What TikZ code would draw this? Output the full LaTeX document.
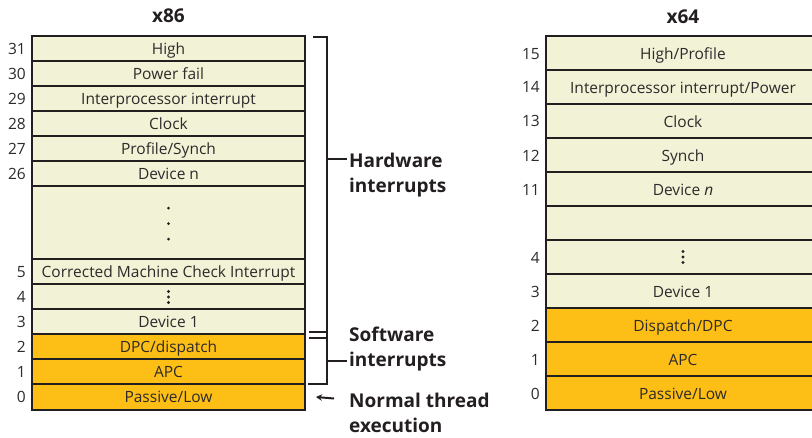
\documentclass[tikz,border=0pt]{standalone}
\usepackage{fontspec}
\setmainfont{Open Sans}
\usetikzlibrary{arrows.meta}
\definecolor{cellpale}{HTML}{F1F2D6}
\definecolor{cellorange}{HTML}{FDBF15}
\definecolor{ink}{HTML}{231F20}
\definecolor{txt}{HTML}{2E2A2B}
\begin{document}
\begin{tikzpicture}[x=1pt,y=-1pt,
  cell/.style={draw=ink, line width=2.4pt, inner sep=0pt, text height=11.1pt, text depth=0pt,
    font=\fontsize{15.5}{18}\selectfont, text=txt},
  paleA/.style={cell, fill=cellpale, minimum width=273pt},
  hotA/.style={cell, fill=cellorange, minimum width=273pt},
  paleB/.style={cell, fill=cellpale, minimum width=274pt, minimum height=34pt, text height=13pt},
  hotB/.style={cell, fill=cellorange, minimum width=274pt, minimum height=34pt, text height=13pt},
  num/.style={anchor=east, inner sep=0pt, text height=11.1pt, text depth=0pt,
    font=\fontsize{15.5}{18}\selectfont, text=txt},
  coltitle/.style={anchor=base, inner sep=0pt, font=\bfseries\fontsize{19}{22}\selectfont, text=ink},
  lbl/.style={anchor=west, align=left, inner sep=0pt, font=\bfseries\fontsize{19}{25}\selectfont, text=ink},
  brk/.style={draw=ink, line width=2pt},
  vdot/.style={fill=ink}
]
\useasboundingbox (0,0) rectangle (812,437);
\fill[white] (0,0) rectangle (812,437);

% ---------- x86 ----------
\node[coltitle] (t86) at (168.5,22) {x86};
\node[paleA, minimum height=25pt] (a31) at (168.5,48.5) {High};
\node[paleA, minimum height=25pt] (a30) at (168.5,73.5) {Power fail};
\node[paleA, minimum height=25pt] (a29) at (168.5,98.5) {Interprocessor interrupt};
\node[paleA, minimum height=25pt] (a28) at (168.5,123.5) {Clock};
\node[paleA, minimum height=25pt] (a27) at (168.5,148.5) {Profile/Synch};
\node[paleA, minimum height=25pt] (a26) at (168.5,173.5) {Device n};
\node[paleA, minimum height=73pt] (agap) at (168.5,222.5) {};
\node[paleA, minimum height=25pt] (a5) at (168.5,271.5) {Corrected Machine Check Interrupt};
\node[paleA, minimum height=25pt] (a4) at (168.5,296.5) {};
\node[paleA, minimum height=25pt] (a3) at (168.5,321.5) {Device 1};
\node[hotA, minimum height=25pt] (a2) at (168.5,346.5) {DPC/dispatch};
\node[hotA, minimum height=25pt] (a1) at (168.5,371.5) {APC};
\node[hotA, minimum height=26pt] (a0) at (168.5,397) {Passive/Low};

\foreach \n/\y in {31/48.5,30/73.5,29/98.5,28/123.5,27/148.5,26/173.5,5/271.5,4/296.5,3/321.5,2/346.5,1/371.5,0/397}
  \node[num] (na\n) at (26,\y) {\n};

\foreach \y in {208,223.5,239} \fill[vdot] (agap.center |- 0,\y) circle (1.5pt);
\foreach \y in {291.5,297,302.5} \fill[vdot] (a4.center |- 0,\y) circle (1.6pt);

% bracket
\coordinate (bt) at (313,37);
\coordinate (bb) at (308,384);
\draw[brk] (bt) -- (327,37) -- (327,384) -- (bb);
\node[lbl] (hw) at (349,175.5) {Hardware\\interrupts};
\node[lbl] (sw) at (349,349) {Software\\interrupts};
\node[lbl] (nt) at (349,413) {Normal thread\\execution};
\coordinate (hwt) at (347,159);
\coordinate (swt) at (347,361);
\draw[brk] (327,159) -- (hwt);
\draw[brk] (327,361) -- (swt);
\draw[brk] (309,332.3) -- (327,332.3);
\draw[brk] (309,337.8) -- (327,337.8);
\coordinate (arrs) at (334,398.5);
\draw[brk, -{Stealth[length=6pt,width=6.5pt]}] (arrs) -- (a0.east -| 316,398.5);

% ---------- x64 ----------
\node[coltitle] (t64) at (683,23) {x64};
\node[paleB] (b15) at (683,53) {High/Profile};
\node[paleB] (b14) at (683,87) {Interprocessor interrupt/Power};
\node[paleB] (b13) at (683,121) {Clock};
\node[paleB] (b12) at (683,155) {Synch};
\node[paleB] (b11) at (683,189) {Device \textit{n}};
\node[paleB] (bgap) at (683,223) {};
\node[paleB] (b4) at (683,257) {};
\node[paleB] (b3) at (683,291) {Device 1};
\node[hotB] (b2) at (683,325) {Dispatch/DPC};
\node[hotB] (b1) at (683,359) {APC};
\node[hotB] (b0) at (683,393) {Passive/Low};

\foreach \n/\y in {15/54,14/87,13/121,12/156,11/190,4/258,3/292,2/326,1/360,0/394}
  \node[num] (nb\n) at (540,\y) {\n};
\foreach \y in {251.5,257,262.5} \fill[vdot] (b4.center |- 0,\y) circle (1.6pt);
\end{tikzpicture}
\end{document}
